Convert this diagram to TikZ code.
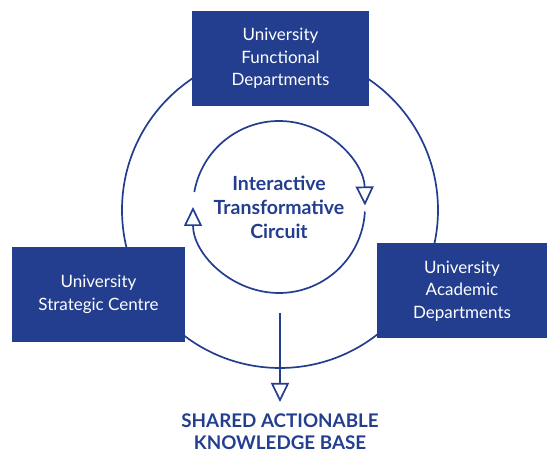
\documentclass[tikz,border=0pt]{standalone}
\usepackage{fontspec}
\setmainfont{Lato}
\usetikzlibrary{arrows.meta}

\definecolor{uniblue}{RGB}{35,62,142}

\tikzset{
  deptbox/.style={fill=uniblue, text=white, align=center, inner sep=0pt,
    minimum height=95pt, font=\fontsize{17}{22.5}\selectfont},
  ringline/.style={draw=uniblue, line width=1.7pt},
  openhead/.style={-{Triangle[open, length=19pt, width=18pt]}},
  bluetext/.style={text=uniblue, align=center, font=\bfseries\fontsize{19.5}{24}\selectfont}
}

\begin{document}
\begin{tikzpicture}[x=1pt,y=1pt]
  \useasboundingbox (0,0) rectangle (547,454);

  % Outer ring
  \draw[ringline] (280,244) circle (158pt);

  % Departments
  \node[deptbox, minimum width=177pt] (functional) at (280.5,395.5)
    {University\\Functional\\Departments};
  \node[deptbox, minimum width=173pt] (strategic) at (98.5,159.5)
    {University\\Strategic Centre};
  \node[deptbox, minimum width=170pt] (academic) at (462,163)
    {University\\Academic\\Departments};

  % Inner circuit
  \coordinate (hub) at (279,247);
  \draw[ringline, openhead] (hub) ++(170:86pt) arc[start angle=170, end angle=1, radius=86pt];
  \draw[ringline, openhead] (hub) ++(-3:86pt) arc[start angle=-3, end angle=-180, radius=86pt];
  \node[bluetext] (circuit) at (hub) {Interactive\\Transformative\\Circuit};

  % Knowledge base
  \coordinate (kbstart) at (280,141);
  \coordinate (kbtip) at (280,52);
  \node[bluetext, font=\bfseries\fontsize{18.8}{22}\selectfont, inner sep=2pt] (shared) at (280,22.5)
    {SHARED ACTIONABLE\\KNOWLEDGE BASE};
  \draw[ringline, openhead] (kbstart) -- (kbtip);
\end{tikzpicture}
\end{document}
